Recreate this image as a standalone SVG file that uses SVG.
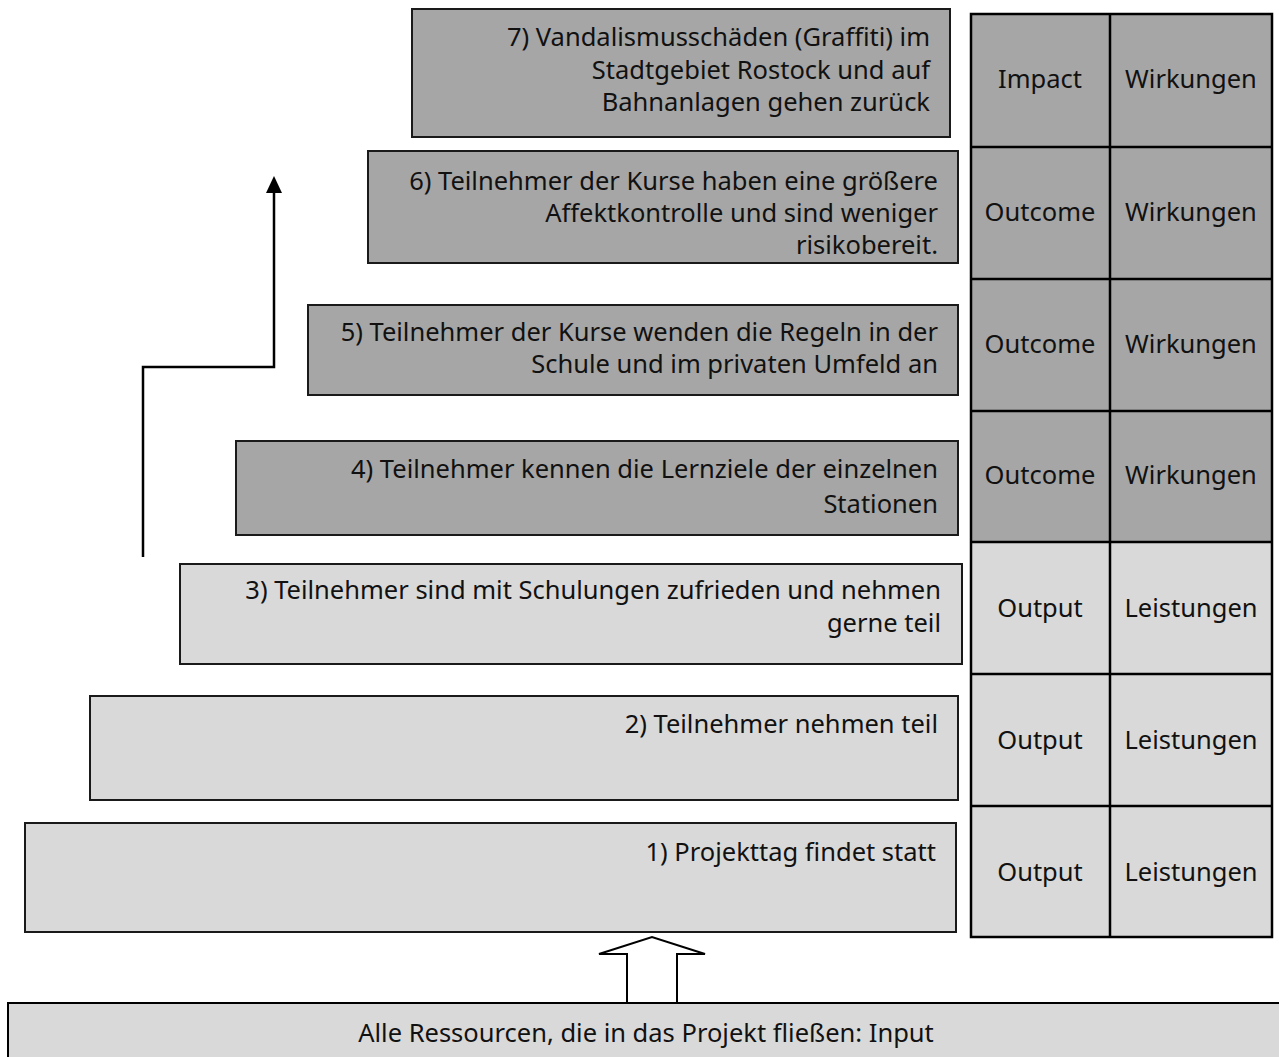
<svg xmlns="http://www.w3.org/2000/svg" width="1279" height="1057" viewBox="0 0 1279 1057">
<defs>
<style>
.dk{fill:#a6a6a6;stroke:#1a1a1a;stroke-width:2}
.lt{fill:#d9d9d9;stroke:#1a1a1a;stroke-width:2}
.t{font-family:"Noto Sans","Open Sans",sans-serif;font-size:25.5px;fill:#111}
.r{text-anchor:end}
.c{text-anchor:middle}
.grid{stroke:#000;stroke-width:2.5;fill:none}
.conn{stroke:#000;stroke-width:2.5;fill:none}
</style>
</defs>
<rect width="1279" height="1057" fill="#fff"/>

<g id="box7">
<rect class="dk" x="412" y="9" width="538" height="128"/>
<text class="t r" x="930" y="46">7) Vandalismusschäden (Graffiti) im</text>
<text class="t r" x="930" y="79">Stadtgebiet Rostock und auf</text>
<text class="t r" x="930" y="111">Bahnanlagen gehen zurück</text>
</g>
<g id="box6">
<rect class="dk" x="368" y="151" width="590" height="112"/>
<text class="t r" x="938" y="190">6) Teilnehmer der Kurse haben eine größere</text>
<text class="t r" x="938" y="222">Affektkontrolle und sind weniger</text>
<text class="t r" x="938" y="254">risikobereit.</text>
</g>
<g id="box5">
<rect class="dk" x="308" y="305" width="650" height="90"/>
<text class="t r" x="938" y="341">5) Teilnehmer der Kurse wenden die Regeln in der</text>
<text class="t r" x="938" y="373">Schule und im privaten Umfeld an</text>
</g>
<g id="box4">
<rect class="dk" x="236" y="441" width="722" height="94"/>
<text class="t r" x="938" y="478">4) Teilnehmer kennen die Lernziele der einzelnen</text>
<text class="t r" x="938" y="513">Stationen</text>
</g>
<g id="box3">
<rect class="lt" x="180" y="564" width="782" height="100"/>
<text class="t r" x="941" y="599">3) Teilnehmer sind mit Schulungen zufrieden und nehmen</text>
<text class="t r" x="941" y="632">gerne teil</text>
</g>
<g id="box2">
<rect class="lt" x="90" y="696" width="868" height="104"/>
<text class="t r" x="938" y="733">2) Teilnehmer nehmen teil</text>
</g>
<g id="box1">
<rect class="lt" x="25" y="823" width="931" height="109"/>
<text class="t r" x="936" y="861">1) Projekttag findet statt</text>
</g>

<g id="levels">
<rect x="971" y="14" width="301" height="528" fill="#a6a6a6"/>
<rect x="971" y="542" width="301" height="396" fill="#d9d9d9"/>
<rect class="grid" x="971" y="14" width="301" height="923"/>
<path class="grid" d="M1110,14 V937 M971,147 H1272 M971,279 H1272 M971,411 H1272 M971,542 H1272 M971,674 H1272 M971,806 H1272"/>
<g id="row-impact">
<text class="t c" x="1040" y="88">Impact</text>
<text class="t c" x="1191" y="88">Wirkungen</text>
</g>
<g id="row-outcome6">
<text class="t c" x="1040" y="221">Outcome</text>
<text class="t c" x="1191" y="221">Wirkungen</text>
</g>
<g id="row-outcome5">
<text class="t c" x="1040" y="353">Outcome</text>
<text class="t c" x="1191" y="353">Wirkungen</text>
</g>
<g id="row-outcome4">
<text class="t c" x="1040" y="484">Outcome</text>
<text class="t c" x="1191" y="484">Wirkungen</text>
</g>
<g id="row-output3">
<text class="t c" x="1040" y="617">Output</text>
<text class="t c" x="1191" y="617">Leistungen</text>
</g>
<g id="row-output2">
<text class="t c" x="1040" y="749">Output</text>
<text class="t c" x="1191" y="749">Leistungen</text>
</g>
<g id="row-output1">
<text class="t c" x="1040" y="881">Output</text>
<text class="t c" x="1191" y="881">Leistungen</text>
</g>
</g>

<g id="input">
<rect x="8" y="1003" width="1290" height="80" fill="#d9d9d9" stroke="#000" stroke-width="2"/>
<text class="t c" x="646" y="1042">Alle Ressourcen, die in das Projekt fließen: Input</text>
</g>

<g id="connectors">
<polyline class="conn" points="143,557 143,367 274,367 274,190"/>
<path d="M266,193 L274,176 L282,193 Z" fill="#000"/>
<path d="M627,1003 V954 H599 L652,937 L705,954 H677 V1003 Z" fill="#fff" stroke="#000" stroke-width="2"/>
</g>
</svg>
